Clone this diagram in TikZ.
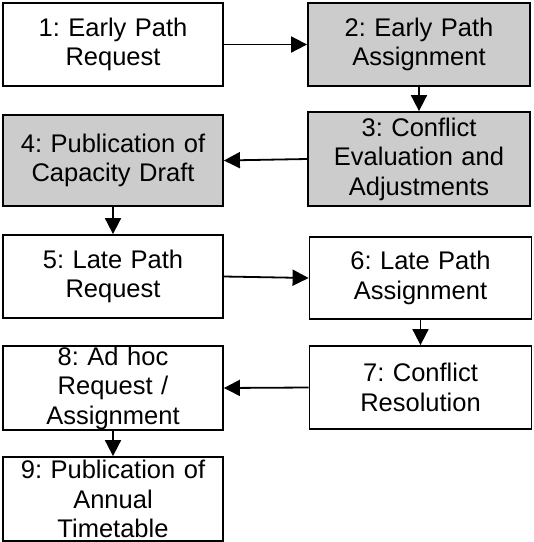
\documentclass[tikz,border=0pt]{standalone}
\usepackage{fontspec}
\setmainfont{Liberation Sans}
\usetikzlibrary{arrows.meta}
\frenchspacing
\def\boxwidth{220pt}

\begin{document}
\begin{tikzpicture}[x=1pt,y=-1pt,-{Triangle[length=16pt,width=16pt]},line width=1.8pt,draw=black]
    \tikzstyle{stage}=[draw,rectangle,fill=white,minimum width=\boxwidth,inner sep=0pt,text width=218pt,align=center,font=\fontsize{25.5}{29.5}\selectfont]
    \tikzstyle{capacity stage}=[stage, fill=gray!40];
    \tikzstyle{right stage}=[minimum width=222pt];
    \useasboundingbox (0,0) rectangle (534,542);

    % Draw the early stages
    \node[stage, minimum height=83pt] (S-1) at (113,44.5) {1: Early Path\\Request};
    \node[capacity stage, right stage, minimum height=83pt] (S-2) at (419,44.5) {2: Early Path\\Assignment};
    \node[capacity stage, right stage, minimum height=94pt] (S-3) at (419,159) {3: Conflict\\Evaluation and\\Adjustments};
    \node[capacity stage, minimum height=91pt] (S-4) at (113,160.5) {4: Publication of\\Capacity Draft};

    % Draw the late stages
    \node[stage, minimum height=83pt] (S-5) at (113,276.5) {5: Late Path\\Request};
    \node[stage, right stage, minimum height=82pt] (S-6) at (420.5,278) {6: Late Path\\Assignment};
    \node[stage, right stage, minimum height=83pt] (S-7) at (420.5,387.5) {7: Conflict\\Resolution};
    \node[stage, minimum height=84pt] (S-8) at (113,388) {8: Ad hoc\\Request /\\Assignment};
    \node[stage, minimum height=84pt] (S-9) at (113,499) {9: Publication of\\Annual\\Timetable};

    % Connect every stage with the next one
    \foreach \source/\dest/\from/\to in {1/2/east/west, 2/3/south/north, 3/4/west/east, 4/5/south/north,
                                         5/6/east/west, 6/7/south/north, 7/8/west/east, 8/9/south/north}
        \path (S-\source.\from) edge (S-\dest.\to);
\end{tikzpicture}
\end{document}
